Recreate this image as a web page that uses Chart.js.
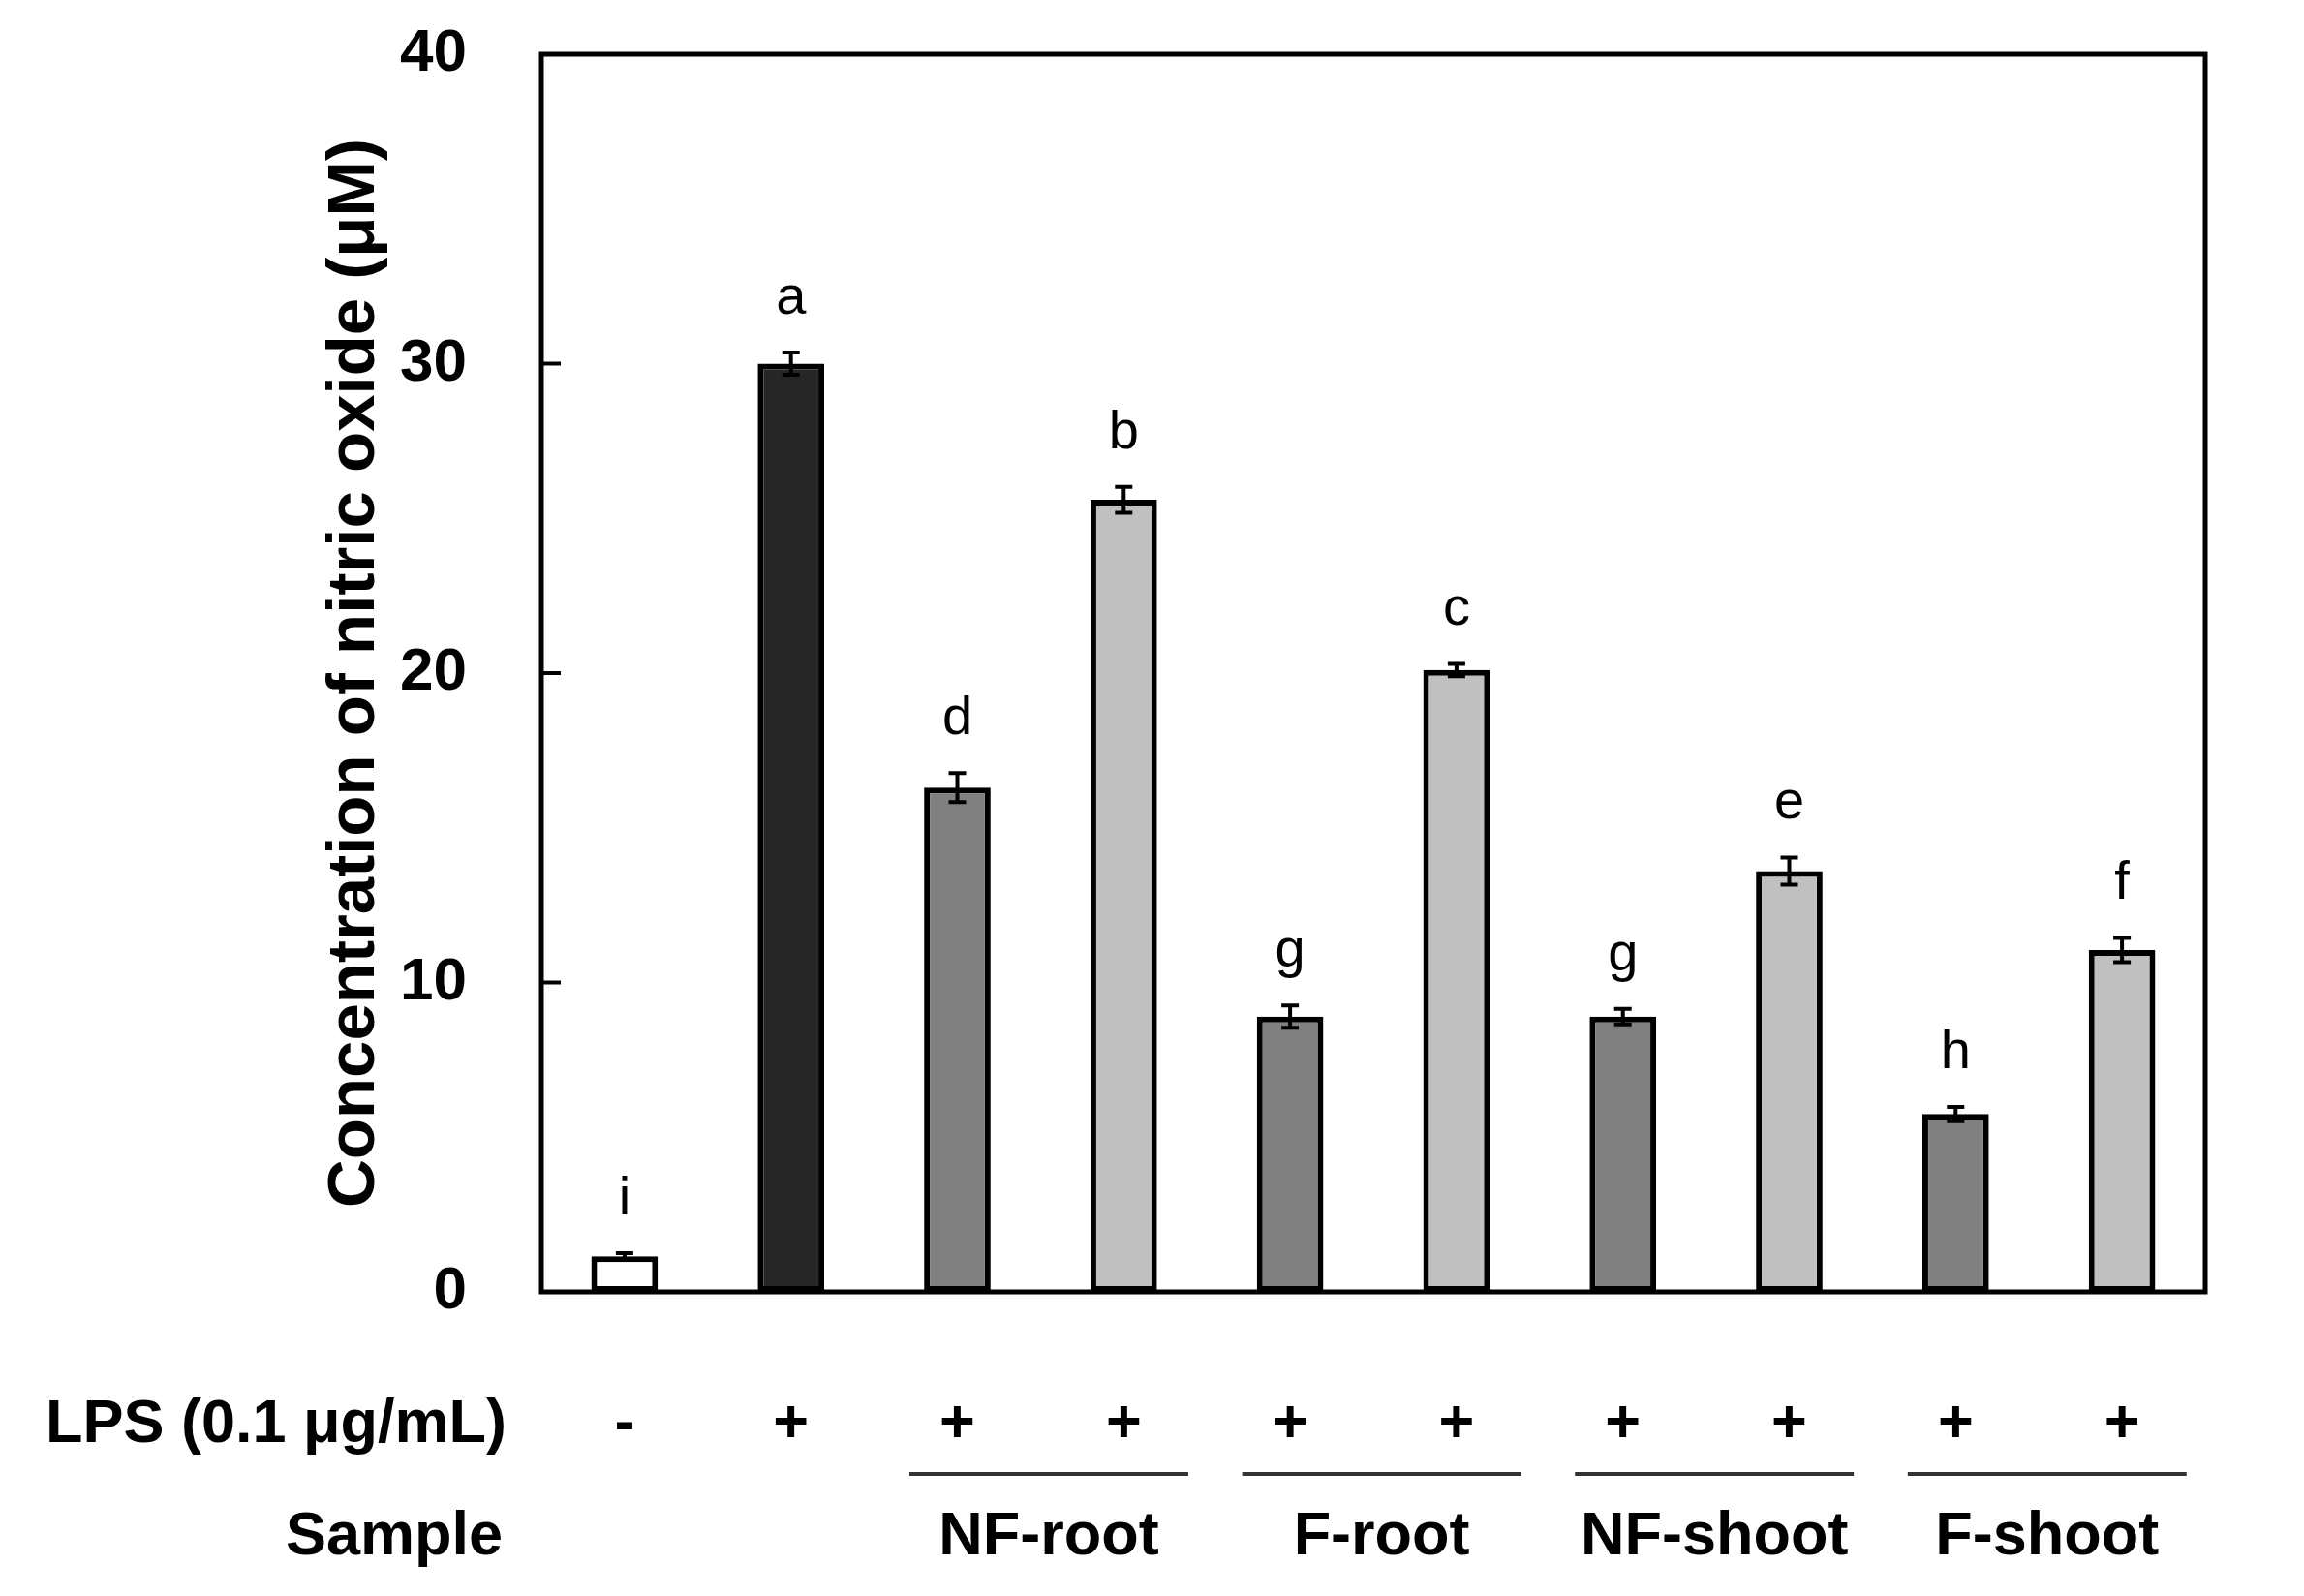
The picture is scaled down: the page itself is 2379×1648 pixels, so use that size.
<!DOCTYPE html>
<html>
<head>
<meta charset="utf-8">
<title>Nitric oxide production</title>
<script src="https://cdn.jsdelivr.net/npm/chart.js@4.4.1/dist/chart.umd.min.js"></script>
<style>
  html, body { margin: 0; padding: 0; background: #fff; }
  #chartBox { width: 2379px; height: 1648px; }
</style>
</head>
<body>
<div id="chartBox"><canvas id="noChart" width="2379" height="1648"></canvas></div>
<script>
// Chart data
const categories = ['Control', 'LPS', 'NF-root 1', 'NF-root 2', 'F-root 1', 'F-root 2',
                    'NF-shoot 1', 'NF-shoot 2', 'F-shoot 1', 'F-shoot 2'];
const noValues = [1.15, 30.0, 16.3, 25.6, 8.9, 20.1, 8.9, 13.6, 5.75, 11.05];
const noErrors = [0.1, 0.36, 0.47, 0.42, 0.36, 0.2, 0.25, 0.44, 0.23, 0.39];
const sigLetters = ['i', 'a', 'd', 'b', 'g', 'c', 'g', 'e', 'h', 'f'];
const lpsSigns = ['-', '+', '+', '+', '+', '+', '+', '+', '+', '+'];
const sampleGroups = ['NF-root', 'F-root', 'NF-shoot', 'F-shoot'];
const groupStart = [2, 4, 6, 8];
const yTicks = [0, 10, 20, 30, 40];

const FONT = "'Liberation Sans', Arial, Helvetica, sans-serif";
const barFill = ['#ffffff', '#262626', '#808080', '#c0c0c0', '#808080', '#c0c0c0',
                 '#808080', '#c0c0c0', '#808080', '#c0c0c0'];

// error bars, letters, frame and the table rows under the axis
const extrasPlugin = {
    id: 'extras',
    afterDatasetsDraw(chart) {
        const ctx = chart.ctx;
        const xs = chart.scales.x;
        const ys = chart.scales.y;
        const area = chart.chartArea;
        ctx.save();

        // frame
        ctx.strokeStyle = '#000';
        ctx.lineWidth = 5;
        ctx.strokeRect(area.left, area.top, area.right - area.left, area.bottom - area.top);

        // inward tick marks
        ctx.lineWidth = 4;
        yTicks.forEach(v => {
            const y = ys.getPixelForValue(v);
            ctx.beginPath();
            ctx.moveTo(area.left, y);
            ctx.lineTo(area.left + 20, y);
            ctx.stroke();
        });

        // error bars + letters
        noValues.forEach((v, i) => {
            const x = xs.getPixelForValue(i);
            const yTop = ys.getPixelForValue(v + noErrors[i]);
            const yBot = ys.getPixelForValue(v - noErrors[i]);
            ctx.lineWidth = 4;
            ctx.beginPath();
            ctx.moveTo(x, yTop); ctx.lineTo(x, yBot);
            ctx.moveTo(x - 9, yTop); ctx.lineTo(x + 9, yTop);
            ctx.moveTo(x - 9, yBot); ctx.lineTo(x + 9, yBot);
            ctx.stroke();

            ctx.fillStyle = '#000';
            ctx.font = 'normal 56px ' + FONT;
            ctx.textAlign = 'center';
            ctx.textBaseline = 'alphabetic';
            ctx.fillText(sigLetters[i], x, yTop - 40);
        });

        // LPS row
        ctx.font = 'bold 63px ' + FONT;
        ctx.textAlign = 'right';
        ctx.fillText('LPS (0.1 μg/mL)', 523, 1489);
        ctx.fillText('Sample', 519, 1605);
        ctx.textAlign = 'center';
        lpsSigns.forEach((s, i) => {
            ctx.fillText(s, xs.getPixelForValue(i), 1489);
        });

        // sample groups with lines
        const cat = xs.getPixelForValue(1) - xs.getPixelForValue(0);
        ctx.strokeStyle = '#333';
        ctx.lineWidth = 4;
        sampleGroups.forEach((name, g) => {
            const c = (xs.getPixelForValue(groupStart[g]) + xs.getPixelForValue(groupStart[g] + 1)) / 2 + cat * 0.05;
            ctx.beginPath();
            ctx.moveTo(c - cat * 0.838, 1522);
            ctx.lineTo(c + cat * 0.838, 1522);
            ctx.stroke();
            ctx.fillText(name, c, 1605);
        });

        ctx.restore();
    }
};

function setupChart() {
    const ctx = document.getElementById('noChart').getContext('2d');
    return new Chart(ctx, {
        type: 'bar',
        data: {
            labels: categories,
            datasets: [{
                label: 'Nitric oxide',
                data: noValues,
                backgroundColor: barFill,
                borderColor: '#000',
                borderWidth: 6,
                borderSkipped: false,
                barPercentage: 0.4,
                categoryPercentage: 1.0
            }]
        },
        options: {
            responsive: false,
            animation: false,
            devicePixelRatio: 1,
            layout: { padding: { left: 0, right: 102, top: 56, bottom: 314 } },
            plugins: { legend: { display: false }, tooltip: { enabled: false } },
            scales: {
                x: { display: false, offset: true },
                y: {
                    min: 0,
                    max: 40,
                    ticks: {
                        stepSize: 10,
                        color: '#000',
                        padding: 77,
                        font: { family: FONT, size: 62, weight: 'bold' }
                    },
                    grid: { display: false, drawTicks: false },
                    border: { display: false },
                    title: {
                        display: true,
                        text: 'Concentration of nitric oxide (μM)',
                        color: '#000',
                        font: { family: FONT, size: 69, weight: 'bold' },
                        padding: { top: 326, bottom: 0 }
                    },
                    afterFit: function(scale) {
                        // keep the plot box where the figure has it
                        scale.width = 559;
                        scale.paddingTop = 0;
                        scale.paddingBottom = 0;
                    }
                }
            }
        },
        plugins: [extrasPlugin]
    });
}

setupChart();
</script>
</body>
</html>
